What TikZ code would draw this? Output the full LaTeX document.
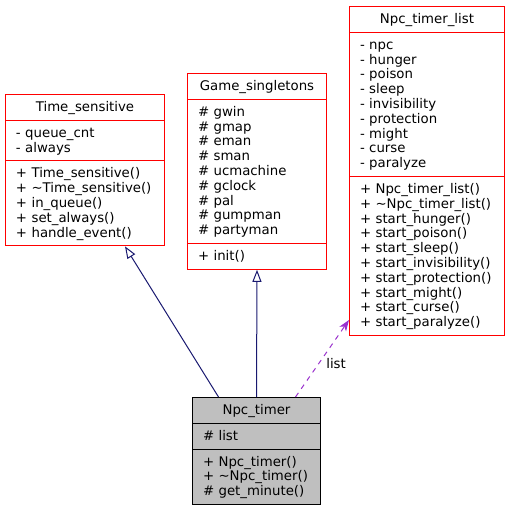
\documentclass[tikz,border=0pt]{standalone}
\usepackage{fontspec}
\setmainfont{DejaVu Sans}
\usetikzlibrary{shapes.multipart}
\usetikzlibrary{arrows.meta}
\definecolor{midnightblue}{HTML}{191970}
\definecolor{darkorchid}{HTML}{9A32CD}
\newcommand\umlfont{\fontsize{13.3}{14.8}\selectfont
\setbox\strutbox\hbox{\vrule height 11.5pt depth 3.3pt width 0pt}}
\newcommand\classname[1]{\hspace*{\fill}\strut#1\strut\hspace*{\fill}\strut}
\tikzset{x=1pt, y=1pt,
class/.style={ % One class box: name, attributes, methods
rectangle split, rectangle split parts=3,
draw=red, line width=1pt, fill=white,
font=\umlfont, align=left,
inner xsep=10.5pt, inner ysep=5pt,
anchor=north west},
focus/.style={ % The class the diagram is about
class, draw=black, fill=black!25},
inherit/.style={ % Edge to a base class
draw=midnightblue, line width=1pt,
-{Triangle[open, length=12pt, width=9pt]}},
uses/.style={ % Edge to a used class
draw=darkorchid, line width=1pt, dash pattern=on 5pt off 5pt,
-{Stealth[length=11pt, width=8pt, inset=3pt]}}}

\begin{document}
\begin{tikzpicture}
					\useasboundingbox (0,0) rectangle (509,507);

					\node[class, text width=138pt] (ts) at (5,413)
					{\classname{Time\_sensitive}
					\nodepart{second}\strut - queue\_cnt\\ - always\strut
					\nodepart{third}\strut + Time\_sensitive()\\ + \textasciitilde Time\_sensitive()\\ + in\_queue()\\ + set\_always()\\ + handle\_event()\strut};

					\node[class, text width=118pt] (gs) at (187,434)
					{\classname{Game\_singletons}
					\nodepart{second}\strut \# gwin\\ \# gmap\\ \# eman\\ \# sman\\ \# ucmachine\\ \# gclock\\ \# pal\\ \# gumpman\\ \# partyman\strut
					\nodepart{third}\strut + init()\strut};

					\node[class, text width=134pt] (ntl) at (349,501)
					{\classname{Npc\_timer\_list}
					\nodepart{second}\strut - npc\\ - hunger\\ - poison\\ - sleep\\ - invisibility\\ - protection\\ - might\\ - curse\\ - paralyze\strut
					\nodepart{third}\strut + Npc\_timer\_list()\\ + \textasciitilde Npc\_timer\_list()\\ + start\_hunger()\\ + start\_poison()\\ + start\_sleep()\\ + start\_invisibility()\\ + start\_protection()\\ + start\_might()\\ + start\_curse()\\ + start\_paralyze()\strut};

					\node[focus, text width=107pt] (nt) at (192,110)
					{\classname{Npc\_timer}
					\nodepart{second}\strut \# list\strut
					\nodepart{third}\strut + Npc\_timer()\\ + \textasciitilde Npc\_timer()\\ \# get\_minute()\strut};

					% \draw[inherit] (nt) -- (ts);
					\draw[inherit] ([xshift=-38pt]nt.north) -- ([xshift=40pt]ts.south);
					\draw[inherit] (nt.north) -- (gs.south);
					\draw[uses] ([xshift=39pt]nt.north) -- node[pos=0.43, right=4pt, font=\umlfont] {list} ([yshift=16pt]ntl.south west);
				\end{tikzpicture}
\end{document}
